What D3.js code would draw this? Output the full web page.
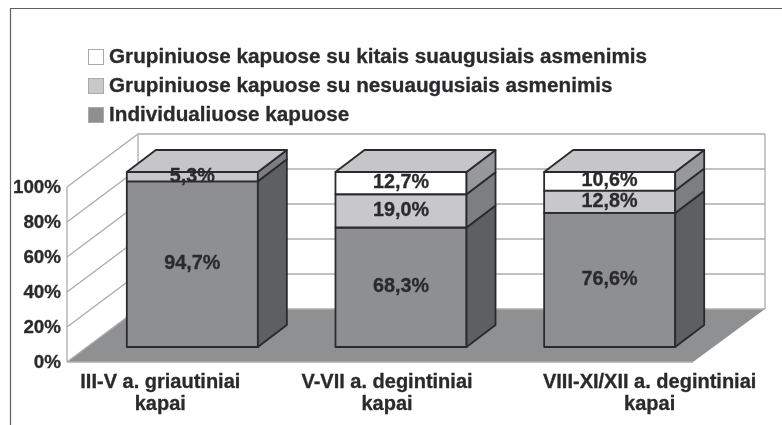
<!DOCTYPE html>
<html><head><meta charset="utf-8">
<script src="https://cdnjs.cloudflare.com/ajax/libs/d3/7.8.5/d3.min.js"></script>
<style>html,body{margin:0;background:#fff}svg{display:block}text{font-family:"Liberation Sans",Arial,sans-serif;font-weight:bold;fill:#2b2b2d;stroke:#2b2b2d;stroke-width:0.3px}</style>
</head><body><svg id="c" width="782" height="425"></svg>
<script>
const categories = [["III-V a. griautiniai","kapai"],["V-VII a. degintiniai","kapai"],["VIII-XI/XII a. degintiniai","kapai"]];
const seriesNames = ["Individualiuose kapuose","Grupiniuose kapuose su nesuaugusiais asmenimis","Grupiniuose kapuose su kitais suaugusiais asmenimis"];
const individual = [94.7,68.3,76.6];
const minors = [5.3,19.0,12.8];
const adults = [0,12.7,10.6];
const ticks = [0,20,40,60,80,100];
const frontCol = ["#8d8f91","#c8c8cb","#ffffff"];
const sideCol = ["#5d5e61","#7d7e81","#97989b"];
const topColor = "#c6c6c9";
const labelShift = [-32,-14,40];

const defs = d3.select("#c").append("defs");
defs.append("filter").attr("id","soft").attr("x","0").attr("y","0").attr("width","1").attr("height","1")
  .append("feGaussianBlur").attr("stdDeviation",0.45);
const svg = d3.select("#c").append("g").attr("filter","url(#soft)");
svg.append("rect").attr("width",782).attr("height",425).attr("fill","#fff");
const fmt = v => d3.format(".1f")(v).replace(".",",")+"%";
const y = d3.scaleLinear().domain([0,100]).range([362,187]);
const depthX = 71, depthY = 53;      // full floor depth
const barOffX = 21, barOffY = 15;    // bars stand part-way back on the floor
const barDX = 29, barDY = 22;        // bar depth
const x0 = 67, x1 = 693;
const x = d3.scaleBand().domain(categories.map((c,i)=>i)).range([x0+barOffX,x1+barOffX]).paddingInner(0.372).paddingOuter(0.186);
const poly = (pts,fill,stroke,sw) => svg.append("polygon").attr("points",pts.map(p=>p.join(",")).join(" ")).attr("fill",fill).attr("stroke",stroke||"none").attr("stroke-width",sw||0).attr("stroke-linejoin","round");

// frame
svg.append("path").attr("d","M10.5,425V8.5H782").attr("fill","none").attr("stroke","#5f5f5f").attr("stroke-width",1.2);

// walls and floor
poly([[x0,y(0)],[x1,y(0)],[x1+depthX+1,y(0)-depthY],[x0+depthX,y(0)-depthY]],"#8f9092");
const grid = "#adadad";
ticks.forEach(t=>{
  svg.append("path").attr("fill","none").attr("stroke",grid).attr("stroke-width",1.3)
    .attr("d",d3.line()([[x0,y(t)],[x0+depthX,y(t)-depthY],[x1+depthX+1,y(t)-depthY]]));
});
svg.append("line").attr("x1",x1+depthX+1).attr("x2",x1+depthX+1).attr("y1",y(0)-depthY).attr("y2",y(100)-depthY).attr("stroke",grid).attr("stroke-width",1.3);
svg.append("line").attr("x1",x0+depthX).attr("x2",x0+depthX).attr("y1",y(0)-depthY).attr("y2",y(100)-depthY).attr("stroke",grid).attr("stroke-width",1.3);
svg.append("line").attr("x1",x0).attr("x2",x0).attr("y1",y(0)).attr("y2",y(100)).attr("stroke",grid).attr("stroke-width",1.3);
svg.append("line").attr("x1",x0).attr("x2",x1).attr("y1",y(0)).attr("y2",y(0)).attr("stroke",grid).attr("stroke-width",1.3);

// bars
const ink = "#2a2b2d";
const series = [individual,minors,adults];
categories.forEach((c,i)=>{
  const L = x(i), R = L+x.bandwidth();
  let acc = 0;
  series.forEach((s,k)=>{
    const v = s[i]; if(!v) return;
    const yb = y(acc)-barOffY, yt = y(acc+v)-barOffY;
    poly([[L,yb],[R,yb],[R,yt],[L,yt]],frontCol[k],ink,1.8);
    poly([[R,yb],[R+barDX,yb-barDY],[R+barDX,yt-barDY],[R,yt]],sideCol[k],ink,1.8);
    acc += v;
  });
  const yt = y(acc)-barOffY;
  poly([[L,yt],[R,yt],[R+barDX,yt-barDY],[L+barDX,yt-barDY]],topColor,ink,1.8);
});
// value labels
categories.forEach((c,i)=>{
  const cx = x(i)+x.bandwidth()/2;
  let acc = 0;
  series.forEach((s,k)=>{
    const v = s[i]; if(!v) return;
    const my = y(acc+v/2)-barOffY;
    svg.append("text").attr("x",cx).attr("y",my+5).attr("text-anchor","middle").attr("font-size",19.8).text(fmt(v));
    acc += v;
  });
});
// axis labels
ticks.forEach(t=>svg.append("text").attr("x",61).attr("y",y(t)+6).attr("text-anchor","end").attr("font-size",18.8).text(t+"%"));
categories.forEach((c,i)=>{
  const cx = x(i)+x.bandwidth()/2+labelShift[i];
  c.forEach((l,j)=>svg.append("text").attr("x",cx).attr("y",388+j*22).attr("text-anchor","middle").attr("font-size",20).text(l));
});
// legend
[2,1,0].forEach((k,j)=>{
  const ly = 49.5+j*29;
  svg.append("rect").attr("x",88.5).attr("y",ly).attr("width",15).attr("height",15).attr("fill",frontCol[k]).attr("stroke","#aaa").attr("stroke-width",1);
  svg.append("text").attr("x",109).attr("y",63+j*29).attr("font-size",20.7).text(seriesNames[k]);
});
</script></body></html>
